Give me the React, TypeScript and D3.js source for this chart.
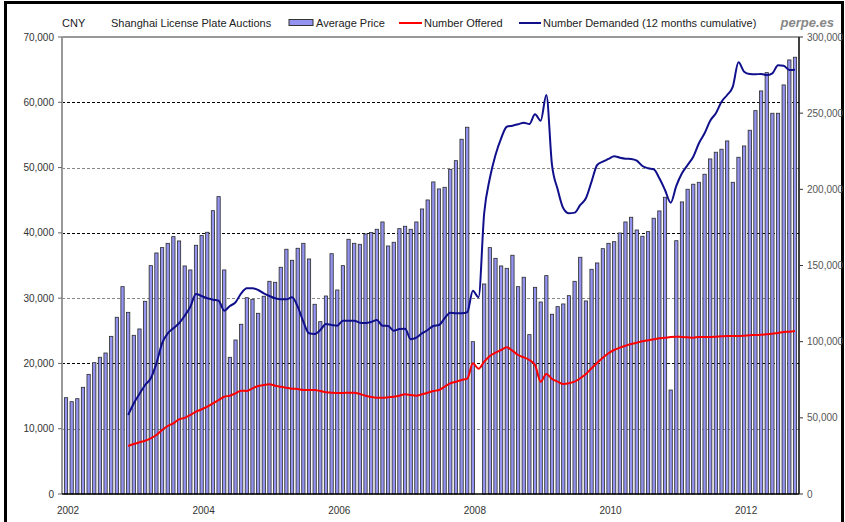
import React from "react";
import * as d3 from "d3";

// monthly auction results, Jan 2002 - Oct 2012 (Feb 2008: no auction)
const months = d3.range(130).map(
    (i) => `${2002 + Math.floor(i / 12)}-${String((i % 12) + 1).padStart(2, "0")}`
);

const yearLabels = ["2002", "2004", "2006", "2008", "2010", "2012"];

const avgPrice: (number | null)[] = [
    14750, 14140, 14600, 16340, 18330, 20120, 20940, 21600, 24150, 27070, 31760, 27830,
    24310, 25280, 29520, 34980, 36920, 37740, 38400, 39420, 38760, 34930, 34320, 38100,
    39580, 40090, 43400, 45550, 34320, 20940, 23590, 26000, 30070, 29820, 27680, 30290,
    32580, 32430, 34730, 37490, 35800, 37640, 38400, 36000, 29060, 26400, 30330, 36810,
    31250, 34980, 39020, 38400, 38250, 39830, 40040, 40550, 41670, 37990, 38560, 40650,
    41010, 40550, 41670, 43660, 45040, 47800, 46730, 46980, 49740, 51060, 54340, 56180,
    23330, null, 32170, 37740, 36100, 34930, 34570, 36570, 31760, 33200, 24410, 31660,
    29410, 33450, 27530, 28700, 29110, 30380, 32580, 36260, 29570, 34420, 35390, 37580,
    38400, 38650, 39980, 41670, 42390, 40440, 39480, 40190, 42240, 43360, 45450, 15930,
    38800, 44740, 46680, 47450, 47750, 48980, 51320, 52350, 52810, 54080, 47750, 51580,
    53310, 55720, 58720, 61740, 64540, 58320, 58320, 62660, 66490, 66900,
];

// both lines start in Dec 2002
const lineStart = 11;

const numberOffered = [
    31510, 32830, 33940, 35000, 36570, 38730, 42020, 44640, 46410, 49040, 50000,
    51860, 54030, 55610, 57310, 59540, 61710, 63880, 64540, 66110, 67820, 67620,
    69390, 70900, 71560, 72020, 71100, 70440, 69790, 69130, 68930, 68280, 68280,
    68280, 67620, 66770, 66500, 66310, 66310, 66500, 66500, 65650, 64540, 63680,
    63220, 63220, 63480, 63880, 64540, 65450, 64990, 64540, 65450, 66500, 67620,
    68280, 70440, 72670, 73730, 74840, 75700, 85780, 82260, 86860, 90600, 92760,
    94540, 96310, 94080, 91250, 89740, 87970, 84690, 73730, 78780, 75500, 73800,
    72220, 72670, 73730, 75960, 78780, 82520, 86200, 89480, 92370, 94540, 96050,
    97360, 98480, 99330, 100250, 100910, 101560, 102220, 102610, 103070, 103270,
    103070, 102870, 102610, 103070, 103070, 103070, 103270, 103530, 103730, 103730,
    103730, 103930, 104190, 104380, 104580, 104850, 105240, 105700, 106360, 106560, 107010,
];

const numberDemanded = [
    51860, 59540, 65650, 71560, 75930, 85780, 98930, 105500, 108780, 112060, 117000,
    122960, 131300, 129990, 128470, 127560, 126900, 120340, 123420, 125850, 131760, 135040,
    135040, 133930, 131760, 129990, 128470, 127820, 127820, 129130, 122960, 113110, 105500,
    105040, 107660, 111600, 110950, 110500, 113780, 113780, 113780, 112460, 112260, 112920,
    114230, 110500, 110290, 107210, 108320, 108520, 101560, 102610, 105500, 107660, 110290,
    110950, 115350, 119030, 118630, 118630, 119290, 133470, 129130, 184280, 207260, 222550,
    233500, 241120, 241780, 242700, 243750, 242900, 249270, 245080, 261940, 215990, 200000,
    187560, 184280, 184720, 189730, 194130, 205030, 215990, 218150, 219930, 221700, 220780,
    220120, 219930, 218810, 215330, 213820, 213160, 207260, 199580, 191240, 202300,
    210540, 215990, 221440, 230230, 236800, 245080, 249930, 257550, 261940, 267400,
    283400, 277240, 275730, 275530, 275730, 275070, 276190, 281440, 281180, 278360, 278560,
];

const leftTicks = [0, 10000, 20000, 30000, 40000, 50000, 60000, 70000];
const rightTicks = [0, 50000, 100000, 150000, 200000, 250000, 300000];

const W = 845;
const H = 522;
const left = 62;
const right = 799;
const top = 37;
const bottom = 494;

const font = "'Liberation Sans', Arial, sans-serif";
const barFill = "#9494f0";
const red = "#ff0000";
const navy = "#10108c";

export default function App() {
    const x = d3.scaleBand<string>().domain(months).range([left, right]).padding(0.42);
    const step = x.step();
    const cx = (i: number) => (x(months[i]) as number) + x.bandwidth() / 2;

    const yLeft = d3.scaleLinear().domain([0, 70000]).range([bottom, top]);
    const yRight = d3.scaleLinear().domain([0, 300000]).range([bottom, top]);
    const fmt = d3.format(",");

    const lineGen = d3
        .line<number>()
        .x((d, i) => cx(i + lineStart))
        .y((d) => yRight(d))
        .curve(d3.curveMonotoneX);

    return (
        <svg
            width={W}
            height={H}
            style={{ position: "absolute", left: 0, top: 0, background: "#fff" }}
            fontFamily={font}
        >
            <rect x={0} y={0} width={W} height={H} fill="#fff" />
            {/* outer frame */}
            <rect x={5.5} y={2.5} width={837} height={H + 10} fill="none" stroke="#000" strokeWidth={3} />

            {/* header */}
            <text x={62} y={27} fontSize={11} fill="#222">CNY</text>
            <text x={111} y={27} fontSize={11} fill="#222">Shanghai License Plate Auctions</text>
            <rect x={289} y={19.5} width={24} height={6} fill={barFill} stroke="#333" strokeWidth={1} />
            <text x={316} y={27} fontSize={11} fill="#222">Average Price</text>
            <line x1={399} x2={422} y1={23} y2={23} stroke={red} strokeWidth={2} />
            <text x={424} y={27} fontSize={11} fill="#222">Number Offered</text>
            <line x1={519} x2={541} y1={23} y2={23} stroke={navy} strokeWidth={2} />
            <text x={543} y={27} fontSize={11} fill="#222">Number Demanded (12 months cumulative)</text>
            <text x={834} y={27} fontSize={13} fontStyle="italic" fontWeight="bold" fill="#888" textAnchor="end">
                perpe.es
            </text>

            {/* gridlines */}
            {leftTicks
                .filter((t) => t > 0 && t < 70000)
                .map((t) => (
                    <line
                        key={"g" + t}
                        x1={left}
                        x2={right}
                        y1={Math.round(yLeft(t)) + 0.5}
                        y2={Math.round(yLeft(t)) + 0.5}
                        stroke={(t / 10000) % 2 === 0 ? "#000" : "#888"}
                        strokeDasharray="3,2"
                        strokeWidth={1}
                    />
                ))}

            {/* bars */}
            {avgPrice.map((v, i) =>
                v == null ? null : (
                    <rect
                        key={months[i]}
                        x={x(months[i])}
                        y={yLeft(v)}
                        width={x.bandwidth()}
                        height={bottom - yLeft(v)}
                        fill={barFill}
                        stroke="#2a2a2a"
                        strokeWidth={0.8}
                    />
                )
            )}

            {/* lines */}
            <path d={lineGen(numberOffered) || ""} fill="none" stroke={red} strokeWidth={2} />
            <path d={lineGen(numberDemanded) || ""} fill="none" stroke={navy} strokeWidth={2} />

            {/* frame of plot */}
            <line x1={left} x2={right} y1={top} y2={top} stroke="#999" strokeWidth={2} />
            <line x1={left} x2={left} y1={top} y2={bottom} stroke="#999" strokeWidth={2} />
            <line x1={right} x2={right} y1={top} y2={bottom} stroke="#000" strokeWidth={1.5} />
            <line x1={left} x2={right} y1={bottom} y2={bottom} stroke="#000" strokeWidth={1.5} />

            {/* left axis */}
            {leftTicks.map((t) => (
                <g key={"l" + t}>
                    <line x1={left - 4} x2={left} y1={yLeft(t)} y2={yLeft(t)} stroke="#666" />
                    <text x={left - 8} y={yLeft(t) + 3.5} fontSize={10} fill="#333" textAnchor="end">
                        {fmt(t)}
                    </text>
                </g>
            ))}

            {/* right axis */}
            {rightTicks.map((t) => (
                <g key={"r" + t}>
                    <line x1={right} x2={right + 4} y1={yRight(t)} y2={yRight(t)} stroke="#333" />
                    <text x={right + 8} y={yRight(t) + 3.5} fontSize={10} fill="#555">
                        {fmt(t)}
                    </text>
                </g>
            ))}

            {/* year labels */}
            {yearLabels.map((yr, k) => (
                <text
                    key={yr}
                    x={cx(k * 24) + 2}
                    y={514}
                    fontSize={10}
                    fill="#333"
                    textAnchor="middle"
                >
                    {yr}
                </text>
            ))}
        </svg>
    );
}
